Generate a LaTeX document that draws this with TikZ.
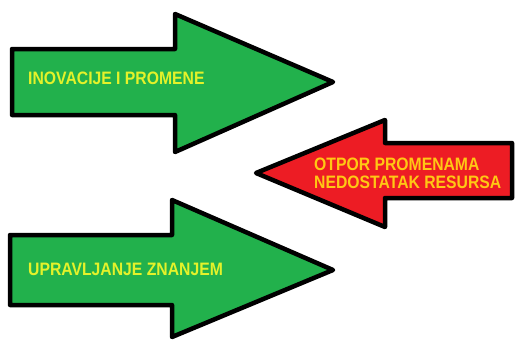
\documentclass[tikz,border=0pt]{standalone}
\usepackage{fontspec}
\setmainfont{Liberation Sans}
\definecolor{pgreen}{HTML}{22B14C}
\definecolor{pred}{HTML}{ED1C24}
\definecolor{gtext}{HTML}{E4F22A}
\definecolor{rtext}{HTML}{FFC814}
\newcommand{\tallbf}[1]{\scalebox{0.99}[1.13]{#1}}
\begin{document}
\begin{tikzpicture}[x=1pt,y=-1pt,
  arrowshape/.style={draw=black,line width=4.5pt,line join=round},
  label/.style={font=\bfseries\fontsize{15.9}{19}\selectfont,inner sep=0pt,anchor=west}]
\useasboundingbox (0,0) rectangle (516,340);
% top green arrow
\path[arrowshape,fill=pgreen] (12,49) -- (175,49) -- (175,14) -- (333,82) -- (175,152) -- (175,115) -- (12,115) -- cycle;
% red arrow
\path[arrowshape,fill=pred] (512,143) -- (385,143) -- (385,120) -- (256,173) -- (385,227) -- (385,198) -- (512,198) -- cycle;
% bottom green arrow
\path[arrowshape,fill=pgreen] (10,235) -- (172,235) -- (172,200) -- (333,270) -- (172,337) -- (172,305) -- (10,305) -- cycle;
\node[label,text=gtext] (t1) at (28,78) {\tallbf{INOVACIJE I PROMENE}};
\node[label,text=gtext] (t3) at (28,269) {\tallbf{UPRAVLJANJE ZNANJEM}};
\node[label,text=rtext] (t2a) at (314,164.5) {\tallbf{OTPOR PROMENAMA}};
\node[label,text=rtext] (t2b) at (314,182.5) {\tallbf{NEDOSTATAK RESURSA}};
\end{tikzpicture}
\end{document}
